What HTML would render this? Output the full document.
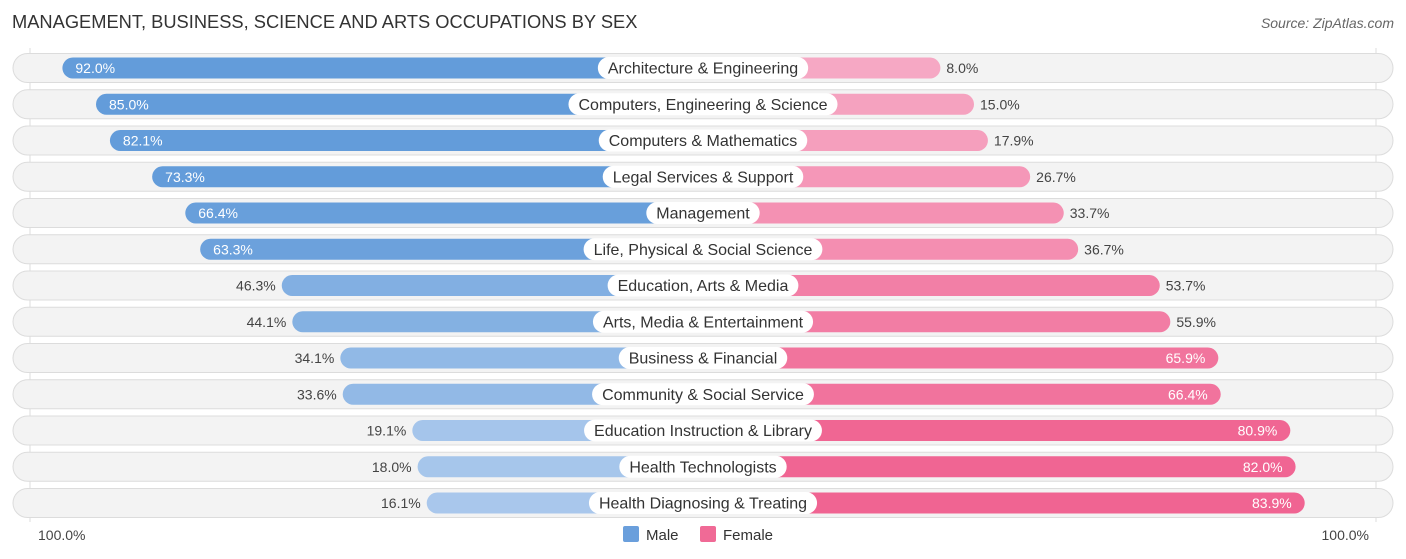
<!DOCTYPE html>
<html><head><meta charset="utf-8"><style>
body{margin:0;background:#fff;font-family:"Liberation Sans",sans-serif;}
#wrap{position:relative;width:1406px;height:559px;overflow:hidden;}
.title{position:absolute;left:12px;top:11px;font-size:18.3px;color:#333;}
.src{position:absolute;right:12px;top:15px;font-size:14px;color:#666;font-style:italic;}
</style></head><body>
<div id="wrap">
<div class="title">MANAGEMENT, BUSINESS, SCIENCE AND ARTS OCCUPATIONS BY SEX</div>
<div class="src">Source: ZipAtlas.com</div>
<svg id="svg" width="1406" height="559" style="position:absolute;left:0;top:0"></svg>
</div>
<script>
const categories=["Architecture & Engineering","Computers, Engineering & Science","Computers & Mathematics","Legal Services & Support","Management","Life, Physical & Social Science","Education, Arts & Media","Arts, Media & Entertainment","Business & Financial","Community & Social Service","Education Instruction & Library","Health Technologists","Health Diagnosing & Treating"];
const maleValues=[92.0,85.0,82.1,73.3,66.4,63.3,46.3,44.1,34.1,33.6,19.1,18.0,16.1];
const femaleValues=[8.0,15.0,17.9,26.7,33.7,36.7,53.7,55.9,65.9,66.4,80.9,82.0,83.9];
const axisLabels=["100.0%","100.0%"];
const legendLabels=["Male","Female"];

const svg=document.getElementById('svg');
const NS='http://www.w3.org/2000/svg';
const CX=703, OFF=199, K=4.8;
function xMale(v){return CX-OFF-K*v;}
function xFemale(v){return CX+OFF+K*v;}
function yRow(i){return 68+i*36.25;}
function mk(t,a){const e=document.createElementNS(NS,t);for(const k in a)e.setAttribute(k,a[k]);svg.appendChild(e);return e;}
function mix(c1,c2,t){return 'rgb('+c1.map((c,i)=>Math.round(c+(c2[i]-c)*t)).join(',')+')';}
let g1=mk('line',{x1:30,x2:30,y1:48,y2:522,stroke:'#ddd','stroke-width':1});


let g2=mk('line',{x1:1376,x2:1376,y1:48,y2:522,stroke:'#ddd','stroke-width':1});


categories.forEach((c,i)=>{
  const y=yRow(i);
  const bg=mk('rect',{x:13,y:y-14.5,width:1380,height:29,rx:14.5,fill:'#f3f3f3',stroke:'#dcdcdc','stroke-width':1});
  
  
  const m=maleValues[i], f=femaleValues[i];
  const mx=xMale(m);
  const mb=mk('rect',{x:mx,y:y-10.5,width:CX-mx,height:21,rx:10.5,fill:mix([170,200,236],[99,156,218],Math.min(1,Math.max(0,(m-15)/55)))});
  
  
  const fx=xFemale(f);
  const fb=mk('rect',{x:CX,y:y-10.5,width:fx-CX,height:21,rx:10.5,fill:mix([246,168,196],[240,100,146],Math.min(1,Math.max(0,(f-8)/75)))});
  
  
  const mIn=m>60;
  const mt=mk('text',{x:mIn?mx+13:mx-6,y:y+5,'font-size':14,fill:mIn?'#fff':'#444','text-anchor':mIn?'start':'end'});
  mt.textContent=m.toFixed(1)+'%';
  
  
  const fIn=f>60;
  const ft=mk('text',{x:fIn?fx-13:fx+6,y:y+5,'font-size':14,fill:fIn?'#fff':'#444','text-anchor':fIn?'end':'start'});
  ft.textContent=f.toFixed(1)+'%';
  
  
  const ct=mk('text',{x:CX,y:y+5.5,'font-size':16,fill:'#333','text-anchor':'middle'});
  ct.textContent=c;
  const w=ct.getComputedTextLength()+20;
  const lb=mk('rect',{x:CX-w/2,y:y-11,width:w,height:22,rx:11,fill:'#fff'});
  svg.insertBefore(lb,ct);
  
  
  
  
});
const a1=mk('text',{x:38,y:540,'font-size':14,fill:'#444'});a1.textContent=axisLabels[0];


const a2=mk('text',{x:1369,y:540,'font-size':14,fill:'#444','text-anchor':'end'});a2.textContent=axisLabels[1];


const lx=[623,700],lc=['#6a9fdc','#f06a96'];
legendLabels.forEach((l,i)=>{
  const r=mk('rect',{x:lx[i],y:526,width:16,height:16,rx:2,fill:lc[i]});
  
  
  const t=mk('text',{x:lx[i]+23,y:540,'font-size':15,fill:'#333'});t.textContent=l;
  
  
});
</script>
</body></html>
